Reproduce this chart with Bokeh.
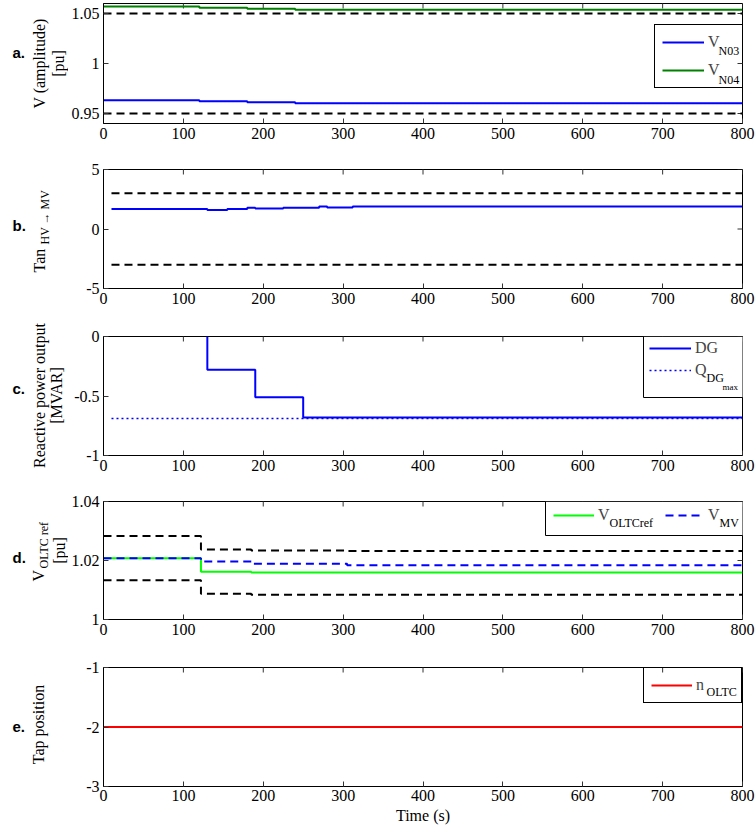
from math import pi
from bokeh.plotting import figure
from bokeh.layouts import column, row
from bokeh.models import (Legend, LegendItem, Label, FixedTicker,
                          CustomJSTickFormatter, BoxAnnotation, Range1d)
from bokeh.embed import file_html
from bokeh.resources import INLINE

# ---------------- data ----------------
x_ticks = [0, 100, 200, 300, 400, 500, 600, 700, 800]

# a. node voltages
t_a = [0, 120, 180, 240, 800]
v_n03 = [0.9633, 0.9623, 0.9613, 0.9603, 0.9603]
v_n04 = [1.0570, 1.0557, 1.0547, 1.0537, 1.0537]
t_lim_a = [0, 800]
v_min_a = [0.95, 0.95]
v_max_a = [1.05, 1.05]
yticks_a = [0.95, 1, 1.05]

# b. tan HV->MV
t_b = [10, 130, 155, 180, 190, 225, 270, 280, 312, 800]
tan_b = [1.69, 1.60, 1.69, 1.78, 1.72, 1.78, 1.89, 1.80, 1.89, 1.89]
t_lim_b = [10, 800]
tan_min_b = [-3, -3]
tan_max_b = [3, 3]
yticks_b = [-5, 0, 5]

# c. reactive power output
t_c = [130, 130, 190, 250, 800]
q_dg = [0.0, -0.28, -0.51, -0.68, -0.68]
t_qmax = [10, 800]
q_dg_max = [-0.69, -0.69]
yticks_c = [-1, -0.5, 0]

# d. OLTC reference voltage
t_d = [0, 122, 185, 305, 800]
v_oltc_ref = [1.0208, 1.0162, 1.0159, 1.0159, 1.0159]
v_mv = [1.0208, 1.0197, 1.0189, 1.0184, 1.0184]
v_upper_d = [1.0283, 1.0237, 1.0234, 1.0232, 1.0232]
v_lower_d = [1.0133, 1.0087, 1.0084, 1.0084, 1.0084]
yticks_d = [1, 1.02, 1.04]

# e. tap position
t_e = [0, 800]
n_oltc = [-2, -2]
yticks_e = [-3, -2, -1]

# ---------------- style ----------------
SERIF = "Liberation Serif"
SANS = "Liberation Sans"
STRIP_W = 68          # left strip holding the y titles
MAIN_W = 755 - STRIP_W
FL = 102              # canvas x of the frame left edge
H_A, H_B, H_C, H_D, H_E = 160, 167, 165, 166, 170
TOTAL_H = H_A + H_B + H_C + H_D + H_E


def make_fig(height, yr, yticks, top, bottom):
    p = figure(width=MAIN_W, height=height, x_range=Range1d(0, 800), y_range=Range1d(*yr),
               output_backend="svg", toolbar_location=None,
               min_border_left=FL - STRIP_W, min_border_right=13,
               min_border_top=top, min_border_bottom=bottom)
    p.xgrid.visible = False
    p.ygrid.visible = False
    p.outline_line_color = "black"
    p.outline_line_alpha = 1
    p.outline_line_width = 1
    p.background_fill_color = "white"
    p.border_fill_color = "white"
    fmt = CustomJSTickFormatter(code="return tick.toString();")
    for ax, ticks in ((p.below[0], x_ticks), (p.left[0], yticks)):
        ax.ticker = FixedTicker(ticks=ticks)
        ax.formatter = fmt
        ax.major_tick_in = 5
        ax.major_tick_out = 0
        ax.minor_tick_line_color = None
        ax.major_label_text_font = SERIF
        ax.major_label_text_font_size = "16px"
        ax.major_label_text_color = "black"
        ax.axis_line_color = "black"
        ax.major_tick_line_color = "#333333"
        ax.major_label_standoff = 4
    # inward ticks on the top and right edges (half of each dash is clipped by the frame)
    p.scatter(x=x_ticks, y=[yr[1]] * len(x_ticks), marker="dash", angle=pi / 2,
              size=10, line_color="#333333", line_width=1)
    p.scatter(x=[800] * len(yticks), y=yticks, marker="dash", angle=0,
              size=10, line_color="#333333", line_width=1)
    return p


def txt(p, x0, fb, cx, cy, text, size="16px", angle=0, align="center",
        font=SERIF, style="normal"):
    p.add_layout(Label(x=cx - x0, y=fb - cy, x_units="screen", y_units="screen",
                       text=text, angle=angle, text_align=align, text_baseline="middle",
                       text_font=font, text_font_size=size, text_font_style=style,
                       text_color="black"))


def legend(items, **kw):
    base = dict(label_text_font=SERIF, label_text_font_size="16px",
                border_line_color="black", border_line_width=1, border_line_alpha=1,
                background_fill_alpha=0, margin=0,
                glyph_height=20, label_height=20, label_standoff=4)
    base.update(kw)
    return Legend(items=items, **base)


def box(p, fb, left, right, top, bottom):
    p.add_layout(BoxAnnotation(left=left - FL, right=right - FL, top=fb - top, bottom=fb - bottom,
                               left_units="screen", right_units="screen",
                               top_units="screen", bottom_units="screen",
                               fill_color="white", fill_alpha=1,
                               line_color="black", line_alpha=1, line_width=1))


BLACK_DASH = dict(line_color="black", line_width=2, line_dash="8 5")

# ---------------- left strip with the y titles ----------------
strip = figure(width=STRIP_W, height=TOTAL_H, x_range=Range1d(0, 1), y_range=Range1d(0, 1),
               output_backend="svg", toolbar_location=None,
               x_axis_location=None, y_axis_location=None,
               min_border_left=0, min_border_right=0, min_border_top=0, min_border_bottom=0)
strip.grid.visible = False
strip.outline_line_color = None
strip.background_fill_color = "white"
strip.border_fill_color = "white"


def stxt(cx, cy, text, **kw):
    txt(strip, 0, TOTAL_H, cx, cy, text, **kw)


PANEL = dict(size="15px", align="left", font=SANS, style="bold")
stxt(12, 52, "a.", **PANEL)
stxt(38.5, 63, "V (amplitude)", angle=pi / 2)
stxt(57.5, 63, "[pu]", angle=pi / 2)
stxt(12, 225, "b.", **PANEL)
stxt(38.5, 272, "Tan", angle=pi / 2, align="left")
stxt(44.5, 244, "HV \u2192 MV", size="12px", angle=pi / 2, align="left")
stxt(12, 388, "c.", **PANEL)
stxt(38.5, 395, "Reactive power output", angle=pi / 2)
stxt(55.5, 395, "[MVAR]", angle=pi / 2)
stxt(12, 557, "d.", **PANEL)
stxt(37.5, 581, "V", angle=pi / 2, align="left")
stxt(43.5, 568, "OLTC ref", size="12px", angle=pi / 2, align="left")
stxt(59, 550, "[pu]", angle=pi / 2)
stxt(12, 726, "e.", **PANEL)
stxt(37.5, 724, "Tap position", angle=pi / 2)

# ---------------- a ----------------
pa = make_fig(H_A, (0.94, 1.06), yticks_a, 3, 37)
FB_A = 123
pa.line(t_lim_a, v_min_a, **BLACK_DASH)
pa.line(t_lim_a, v_max_a, **BLACK_DASH)
ra1 = pa.step(t_a, v_n03, mode="after", line_color="#0000ff", line_width=2)
ra2 = pa.step(t_a, v_n04, mode="after", line_color="#008000", line_width=2)
pa.add_layout(legend([LegendItem(label="V", renderers=[ra1]),
                      LegendItem(label="V", renderers=[ra2])],
                     location=(551, 35), padding=7, spacing=8,
                     glyph_width=42, label_width=29))
txt(pa, FL, FB_A, 717, 50, "N03", size="12px", align="left")
txt(pa, FL, FB_A, 717, 79, "N04", size="12px", align="left")

# ---------------- b ----------------
pb = make_fig(H_B, (-5, 5), yticks_b, 9, 39)
pb.line(t_lim_b, tan_max_b, **BLACK_DASH)
pb.line(t_lim_b, tan_min_b, **BLACK_DASH)
pb.step(t_b, tan_b, mode="after", line_color="#0000ff", line_width=2)

# ---------------- c ----------------
pc = make_fig(H_C, (-1, 0), yticks_c, 9, 37)
FB_C = 455
rc2 = pc.line(t_qmax, q_dg_max, line_color="#0000ff", line_width=1.5, line_dash="2 3")
rc1 = pc.step(t_c, q_dg, mode="after", line_color="#0000ff", line_width=2)
box(pc, FB_C, 642, 742, 336, 397)
pc.add_layout(legend([LegendItem(label="DG", renderers=[rc1]),
                      LegendItem(label="Q", renderers=[rc2])],
                     location=(648 - FL, FB_C - 380), padding=0, spacing=2,
                     glyph_width=42, label_width=0, border_line_color=None))
txt(pc, FL, FB_C, 705, 377, "DG", size="12px", align="left")
txt(pc, FL, FB_C, 721, 386, "max", size="9px", align="left")

# ---------------- d ----------------
pd_ = make_fig(H_D, (1, 1.04), yticks_d, 9, 39)
FB_D = 619
pd_.step(t_d, v_upper_d, mode="after", **BLACK_DASH)
pd_.step(t_d, v_lower_d, mode="after", **BLACK_DASH)
rd1 = pd_.step(t_d, v_oltc_ref, mode="after", line_color="#00ff00", line_width=2)
rd2 = pd_.step(t_d, v_mv, mode="after", line_color="#0000ff", line_width=2, line_dash="8 5")
box(pd_, FB_D, 544, 742, 501, 535)
pd_.add_layout(legend([LegendItem(label="V", renderers=[rd1])], location=(552 - FL, FB_D - 525),
                      padding=0, glyph_width=41, label_width=0, border_line_color=None))
pd_.add_layout(legend([LegendItem(label="V", renderers=[rd2])], location=(664 - FL, FB_D - 525),
                      padding=0, glyph_width=39, label_width=0, border_line_color=None))
txt(pd_, FL, FB_D, 608, 522, "OLTCref", size="12px", align="left")
txt(pd_, FL, FB_D, 718, 522, "MV", size="12px", align="left")

# ---------------- e ----------------
pe = make_fig(H_E, (-3, -1), yticks_e, 9, 42)
FB_E = 786
re1 = pe.line(t_e, n_oltc, line_color="#ff0000", line_width=2)
pe.below[0].axis_label = "Time (s)"
pe.below[0].axis_label_text_font = SERIF
pe.below[0].axis_label_text_font_size = "16px"
pe.below[0].axis_label_text_font_style = "normal"
pe.below[0].axis_label_text_color = "black"
pe.below[0].axis_label_standoff = 3
pe.below[0].major_label_standoff = 3
pe.add_layout(legend([LegendItem(label="n", renderers=[re1])],
                     location="top_right", padding=7,
                     glyph_width=41, label_width=38))
txt(pe, FL, FB_E, 705, 691, "OLTC", size="12px", align="left")

layout = row(strip, column(pa, pb, pc, pd_, pe, spacing=0), spacing=0)
open("out.html", "w").write(file_html(layout, INLINE))
